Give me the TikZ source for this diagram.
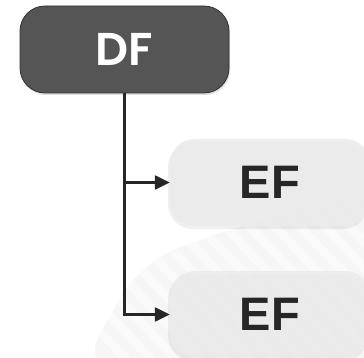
\documentclass[tikz,border=0pt]{standalone}
\usepackage{fontspec}
\setmainfont{Liberation Sans}
\newfontfamily\dffont{Poppins}[UprightFont={* SemiBold}]
\usetikzlibrary{arrows.meta,shadows}

\definecolor{dfgray}{HTML}{555555}
\definecolor{efgray}{HTML}{EBEBEB}
\definecolor{stripe}{HTML}{D2D2D2}

\tikzset{
  parent/.style={draw=black!80, line width=0.8pt, fill=dfgray, rounded corners=25pt,
    minimum width=209pt, minimum height=87pt, inner sep=0pt, text=white,
    font=\dffont\fontsize{46}{46}\selectfont,
    drop shadow={opacity=0.25, shadow xshift=1pt, shadow yshift=-2pt}},
  child/.style={fill=efgray, fill opacity=0.85, text opacity=1, rounded corners=25pt,
    minimum width=200pt, minimum height=87pt, inner sep=0pt, text=black!85,
    font=\bfseries\fontsize{47}{47}\selectfont,
    drop shadow={opacity=0.12, shadow xshift=-2pt, shadow yshift=-3pt}},
  link/.style={line width=2.4pt, black!85, -{Triangle[length=15pt,width=14pt]}}
}

\begin{document}
\begin{tikzpicture}[x=1pt,y=-1pt]
\useasboundingbox (0,0) rectangle (364,358);
\fill[white] (0,0) rectangle (364,358);

\begin{scope}
\clip[rounded corners=40pt] (80,370) -- (140,262) -- (250,222) -- (380,190) -- (380,370) -- cycle;
\fill[stripe, opacity=0.18] (0,0) rectangle (364,358);
\foreach \s in {-60,-35,...,340}
  \fill[white, opacity=0.55, rounded corners=6pt]
    (\s,170) -- (\s+12,170) -- (\s+212,380) -- (\s+200,380) -- cycle;
\end{scope}

\node (df) [parent] at (124.5,49.5) {DF};
\node (ef1) [child] at (270,182.5) {EF};
\node (ef2) [child] at (270,314.5) {EF};

\draw [link] (df.south) |- (ef1.west);
\draw [link] (df.south) |- (ef2.west);
\end{tikzpicture}
\end{document}
